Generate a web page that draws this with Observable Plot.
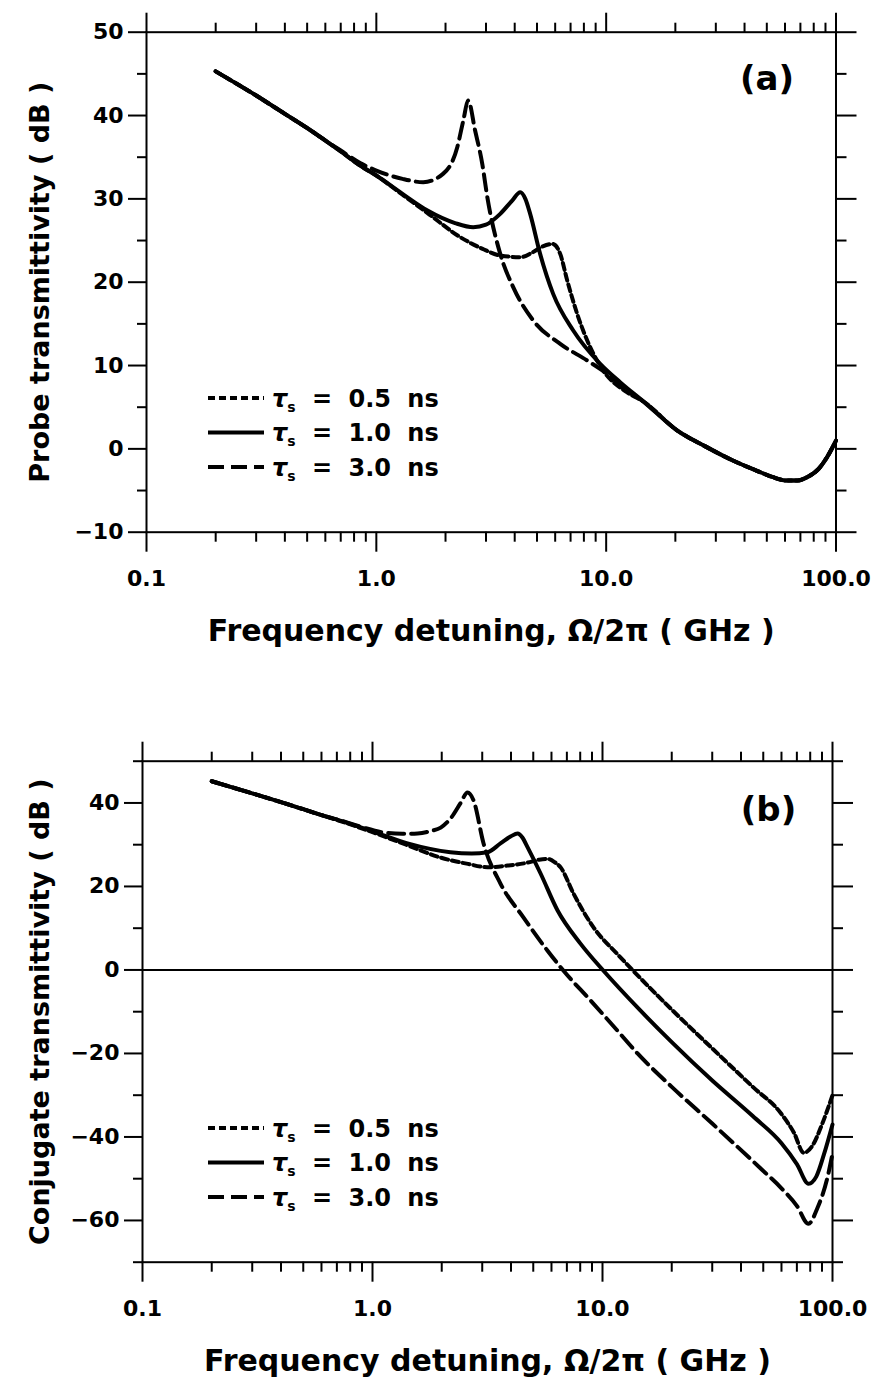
<!DOCTYPE html>
<html><head><meta charset="utf-8">
<script src="https://cdn.jsdelivr.net/npm/d3@7"></script>
<script src="https://cdn.jsdelivr.net/npm/@observablehq/plot@0.6"></script>
<style>
body{margin:0;background:#fff;}
#wrap{position:relative;width:874px;height:1383px;overflow:hidden;background:#fff;}
#wrap svg{display:block;}
#legend{position:absolute;left:0;top:0;pointer-events:none;}
</style></head><body><div id="wrap"></div>
<script>
// ---------- data ----------
const xMajor = [0.1, 1, 10, 100];
const xTickLabels = ["0.1", "1.0", "10.0", "100.0"];
const xMinor = [0.2,0.3,0.4,0.5,0.6,0.7,0.8,0.9,2,3,4,5,6,7,8,9,20,30,40,50,60,70,80,90];

const yMajorA = [-10, 0, 10, 20, 30, 40, 50];
const yMinorA = [-5, 5, 15, 25, 35, 45];
const yMajorB = [-60, -40, -20, 0, 20, 40];
const yMinorB = [-70, -50, -30, -10, 10, 30, 50];

const seriesNames = ["0.5", "1.0", "3.0"];

// panel (a): probe transmittivity (dB) vs detuning (GHz)
const probe05 = [[0.2,45.3],[0.3,42.4],[0.4,40.2],[0.5,38.5],[0.6,37.0],[0.7,35.7],[0.85,34.0],[1.0,32.8],[1.3,30.5],[1.67,28.3],[2.32,25.4],[2.9,24.0],[3.46,23.2],[4.23,23.0],[4.8,23.6],[5.3,24.3],[5.85,24.6],[6.31,23.4],[6.77,20.2],[7.48,16.2],[8.52,12.2],[9.71,9.4],[12.3,6.8],[14.5,5.7],[20.4,2.2],[27,0.3],[35.6,-1.4],[45,-2.6],[53.2,-3.4],[61.2,-3.8],[68,-3.8],[74.8,-3.4],[84,-2.4],[91.4,-1.0],[100,1.0]];
const probe10 = [[0.2,45.3],[0.3,42.4],[0.4,40.2],[0.5,38.5],[0.6,37.0],[0.7,35.7],[0.85,34.0],[1.0,32.8],[1.3,30.6],[1.67,28.6],[2.2,27.1],[2.64,26.6],[3.0,26.9],[3.46,28.2],[3.9,29.8],[4.23,30.8],[4.45,30.0],[4.67,28.2],[5.16,23.4],[5.88,18.6],[7.19,14.2],[9.42,10.2],[11.5,8.0],[14.5,5.7],[20.4,2.2],[27,0.3],[35.6,-1.4],[45,-2.6],[53.2,-3.4],[61.2,-3.8],[68,-3.8],[74.8,-3.4],[84,-2.4],[91.4,-1.0],[100,1.0]];
const probe30 = [[0.2,45.3],[0.3,42.4],[0.4,40.2],[0.5,38.5],[0.6,37.0],[0.7,35.8],[0.85,34.3],[1.0,33.4],[1.3,32.4],[1.6,32.0],[1.95,33.0],[2.25,36.2],[2.39,39.4],[2.51,41.8],[2.69,38.2],[2.89,34.2],[3.04,30.2],[3.46,23.4],[3.94,19.4],[4.82,15.4],[6.31,12.6],[8.27,10.6],[10.1,9.0],[12.3,7.0],[14.5,5.7],[20.4,2.2],[27,0.3],[35.6,-1.4],[45,-2.6],[53.2,-3.4],[61.2,-3.8],[68,-3.8],[74.8,-3.4],[84,-2.4],[91.4,-1.0],[100,1.0]];

// panel (b): conjugate transmittivity (dB) vs detuning (GHz)
const conj05 = [[0.2,45.2],[0.3,42.3],[0.4,40.2],[0.5,38.5],[0.6,37.1],[0.73,35.6],[1.0,33.0],[1.4,30.0],[1.98,26.9],[2.6,25.4],[3.16,24.6],[3.86,25.0],[4.72,25.7],[5.3,26.4],[5.77,26.6],[6.2,25.8],[6.57,24.6],[7.48,18.3],[9.14,10.2],[11.6,3.8],[13.6,-0.2],[20,-9.5],[30,-18.8],[45,-28],[60,-34.5],[68,-39],[75,-43.8],[82,-42],[90,-37],[100,-30]];
const conj10 = [[0.2,45.2],[0.3,42.3],[0.4,40.2],[0.5,38.5],[0.6,37.1],[0.73,35.7],[1.0,33.2],[1.42,30.3],[2.18,28.2],[2.7,27.9],[3.16,28.2],[3.6,30.3],[4.0,32.0],[4.27,32.7],[4.5,31.6],[4.72,29.4],[5.38,23.1],[6.37,14.3],[8.02,6.3],[10.1,-0.2],[14.6,-9.7],[20,-17.3],[30,-26.5],[45,-35],[60,-41.5],[70,-46.5],[78.7,-51.2],[85,-49.5],[92,-44],[100,-37]];
const conj30 = [[0.2,45.2],[0.3,42.3],[0.4,40.2],[0.5,38.5],[0.6,37.1],[0.73,35.8],[0.9,34.2],[1.12,32.9],[1.35,32.6],[1.57,32.7],[1.8,33.3],[1.98,34.1],[2.2,36.5],[2.41,39.9],[2.59,42.5],[2.75,40.6],[3.04,30.3],[3.6,20.7],[4.53,12.6],[5.77,4.6],[6.77,-0.2],[8.87,-7.3],[11.6,-14.5],[14.2,-20],[20,-28],[30,-36.8],[48.6,-47.5],[60,-52.3],[70,-56.5],[78.6,-60.8],[86,-57],[95,-49.8],[100,-44]];

// ---------- styles ----------
const FONT = "DejaVu Sans";
const dashes = ["7,4", null, "16,7"];
const LW = 4;

const fmtY = d => d < 0 ? "\u2212" + Math.abs(d) : String(d);
const fmtX = d => xTickLabels[xMajor.indexOf(d)];

function panel(opts) {
  const {series, yDomain, yMajor, yMinor, height, mt, mb, ml, mr, ytitle, tag, zero, yTitleDx, tagDx, tagDy} = opts;
  const marks = [];
  if (zero) marks.push(Plot.ruleY([0], {strokeWidth: 2}));
  series.forEach((s, i) => {
    marks.push(Plot.line(s, {x: d => d[0], y: d => d[1], curve: "monotone-x", stroke: "#000",
      strokeWidth: LW, strokeDasharray: dashes[i]}));
  });
  marks.push(
    Plot.frame({strokeWidth: 2}),
    Plot.axisX(xMajor, {anchor: "bottom", tickSize: 20, tickPadding: 18, tickFormat: fmtX, strokeWidth: 2, label: null, fontSize: 22}),
    Plot.axisX(xMinor, {anchor: "bottom", tickSize: 10, tickFormat: () => "", strokeWidth: 2, label: null}),
    Plot.axisX(xMajor, {anchor: "top", tickSize: 20, tickFormat: () => "", strokeWidth: 2, label: null}),
    Plot.axisX(xMinor, {anchor: "top", tickSize: 10, tickFormat: () => "", strokeWidth: 2, label: null}),
    Plot.axisY(yMajor, {anchor: "left", tickSize: 18, tickPadding: 5, tickFormat: fmtY, strokeWidth: 2, label: null, fontSize: 22}),
    Plot.axisY(yMinor, {anchor: "left", tickSize: 9, tickFormat: () => "", strokeWidth: 2, label: null}),
    Plot.axisY(yMajor, {anchor: "right", tickSize: 20, tickFormat: () => "", strokeWidth: 2, label: null}),
    Plot.axisY(yMinor, {anchor: "right", tickSize: 10, tickFormat: () => "", strokeWidth: 2, label: null}),
    Plot.text([ytitle], {text: d => d, frameAnchor: "left", dx: yTitleDx, rotate: -90, fontSize: 27,
      textAnchor: "middle", lineAnchor: "middle"}),
    Plot.text(["Frequency detuning, \u03A9/2\u03C0 ( GHz )"], {text: d => d, frameAnchor: "bottom", dy: 99, fontSize: 30,
      textAnchor: "middle", lineAnchor: "middle"}),
    Plot.text([tag], {text: d => d, frameAnchor: "top-right", dx: tagDx, dy: tagDy, fontSize: 34,
      textAnchor: "middle", lineAnchor: "middle"})
  );
  return Plot.plot({
    width: 874, height,
    marginTop: mt, marginBottom: mb, marginLeft: ml, marginRight: mr,
    x: {type: "log", domain: [0.1, 100]},
    y: {domain: yDomain},
    style: {fontFamily: FONT, fontWeight: "bold", fontSize: "22px", color: "#000", background: "#fff", overflow: "visible"},
    marks
  });
}

const wrap = document.getElementById("wrap");
wrap.appendChild(panel({
  series: [probe05, probe10, probe30], yDomain: [-10, 50], yMajor: yMajorA, yMinor: yMinorA,
  height: 690, mt: 31.7, mb: 690 - 531.7, ml: 146, mr: 38.5,
  ytitle: "Probe transmittivity ( dB )", tag: "(a)", zero: false, yTitleDx: -106, tagDx: -69, tagDy: 47
}));
wrap.appendChild(panel({
  series: [conj05, conj10, conj30], yDomain: [-70, 50], yMajor: yMajorB, yMinor: yMinorB,
  height: 693, mt: 70.7, mb: 693 - 571.7, ml: 142, mr: 42,
  ytitle: "Conjugate transmittivity ( dB )", tag: "(b)", zero: true, yTitleDx: -102, tagDx: -64, tagDy: 49
}));

// ---------- legends (overlay) ----------
const leg = d3.select(wrap).append("svg").attr("id", "legend").attr("width", 874).attr("height", 1383)
  .style("font-family", FONT).style("font-weight", "bold");
function legendBlock(y0) {
  seriesNames.forEach((name, i) => {
    const y = y0 + i * 34.5;
    leg.append("line").attr("x1", 208).attr("x2", 264).attr("y1", y).attr("y2", y)
      .attr("stroke", "#000").attr("stroke-width", LW).attr("stroke-dasharray", dashes[i]);
    const t = leg.append("text").attr("x", 272).attr("y", y + 8.5).attr("font-size", 24)
      .style("word-spacing", "8px");
    t.append("tspan").attr("font-style", "italic").text("\u03C4");
    t.append("tspan").attr("font-size", 14).attr("dy", 5).text("s");
    t.append("tspan").attr("dy", -5).text(" = " + name + " ns");
  });
}
legendBlock(398);
legendBlock(690 + 438);
</script></body></html>
